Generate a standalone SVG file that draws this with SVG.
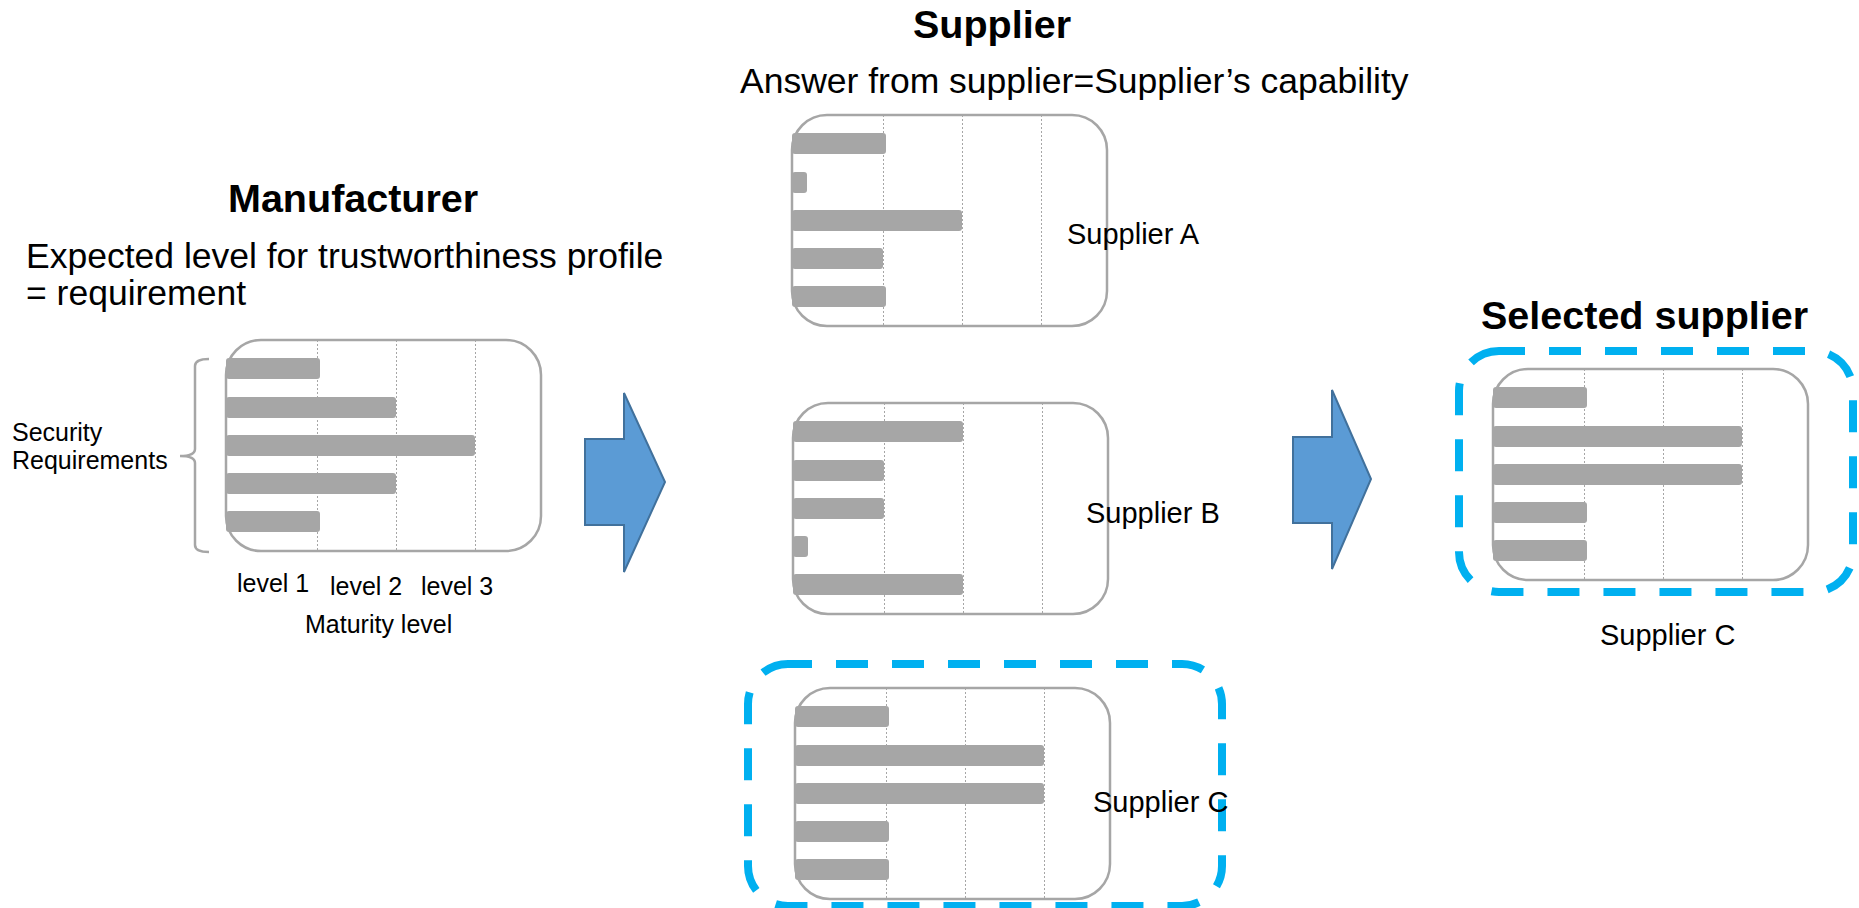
<svg xmlns="http://www.w3.org/2000/svg" width="1859" height="908" viewBox="0 0 1859 908">
  <style>
    text { font-family: "Liberation Sans", Arial, sans-serif; fill: #000; }
    .title { font-weight: bold; font-size: 39.5px; }
    .lead { font-size: 35.5px; }
    .name { font-size: 29px; }
    .axis { font-size: 25px; }
    .box { fill: #fff; stroke: #a6a6a6; stroke-width: 2.5; }
    .grid { stroke: #a6a6a6; stroke-width: 1; stroke-dasharray: 2 2; fill: none; }
    .bar { fill: #a6a6a6; }
    .pick { fill: none; stroke: #00b0f0; stroke-width: 8; stroke-dasharray: 32 24; }
    .arrow { fill: #5b9bd5; stroke: #41719c; stroke-width: 2; stroke-linejoin: miter; }
    .brace { fill: none; stroke: #a6a6a6; stroke-width: 2.5; }
  </style>

  <!-- headings -->
  <g id="headings">
    <text class="title" x="913" y="38">Supplier</text>
    <text class="lead" x="740" y="93">Answer from supplier=Supplier’s capability</text>
    <text class="title" x="228" y="212">Manufacturer</text>
    <text class="lead" x="26" y="268">Expected level for trustworthiness profile</text>
    <text class="lead" x="26" y="305">= requirement</text>
    <text class="title" x="1481" y="329">Selected supplier</text>
  </g>

  <!-- manufacturer requirement profile -->
  <g id="manufacturer">
    <rect class="box" x="226" y="340" width="315" height="211" rx="35"/>
    <path class="grid" d="M317.5 340V551M396.5 340V551M475.5 340V551"/>
    <rect class="bar" x="226" y="358" width="94" height="21" rx="3"/>
    <rect class="bar" x="226" y="397" width="170" height="21" rx="3"/>
    <rect class="bar" x="226" y="435" width="249" height="21" rx="3"/>
    <rect class="bar" x="226" y="473" width="170" height="21" rx="3"/>
    <rect class="bar" x="226" y="511" width="94" height="21" rx="3"/>
    <path class="brace" d="M209 359Q195 359 195 366L195 449Q195 456 180 456Q195 456 195 463L195 545Q195 552 209 552"/>
    <text class="axis" x="12" y="441">Security</text>
    <text class="axis" x="12" y="469">Requirements</text>
    <text class="axis" x="237" y="592">level 1</text>
    <text class="axis" x="330" y="595">level 2</text>
    <text class="axis" x="421" y="595">level 3</text>
    <text class="axis" x="305" y="633">Maturity level</text>
  </g>

  <!-- supplier A -->
  <g id="supplier-a">
    <rect class="box" x="792" y="115" width="315" height="211" rx="35"/>
    <path class="grid" d="M883.5 115V326M962.5 115V326M1041.5 115V326"/>
    <rect class="bar" x="792" y="133" width="94" height="21" rx="3"/>
    <rect class="bar" x="792" y="172" width="15" height="21" rx="3"/>
    <rect class="bar" x="792" y="210" width="170" height="21" rx="3"/>
    <rect class="bar" x="792" y="248" width="91" height="21" rx="3"/>
    <rect class="bar" x="792" y="286" width="94" height="21" rx="3"/>
    <text class="name" x="1067" y="244">Supplier A</text>
  </g>

  <!-- supplier B -->
  <g id="supplier-b">
    <rect class="box" x="793" y="403" width="315" height="211" rx="35"/>
    <path class="grid" d="M884.5 403V614M963.5 403V614M1042.5 403V614"/>
    <rect class="bar" x="793" y="421" width="170" height="21" rx="3"/>
    <rect class="bar" x="793" y="460" width="91" height="21" rx="3"/>
    <rect class="bar" x="793" y="498" width="91" height="21" rx="3"/>
    <rect class="bar" x="793" y="536" width="15" height="21" rx="3"/>
    <rect class="bar" x="793" y="574" width="170" height="21" rx="3"/>
    <text class="name" x="1086" y="523">Supplier B</text>
  </g>

  <!-- supplier C, highlighted -->
  <g id="supplier-c">
    <rect class="pick" x="748" y="664" width="474" height="242" rx="40" stroke-dashoffset="8"/>
    <rect class="box" x="795" y="688" width="315" height="211" rx="35"/>
    <path class="grid" d="M886.5 688V899M965.5 688V899M1044.5 688V899"/>
    <rect class="bar" x="795" y="706" width="94" height="21" rx="3"/>
    <rect class="bar" x="795" y="745" width="249" height="21" rx="3"/>
    <rect class="bar" x="795" y="783" width="249" height="21" rx="3"/>
    <rect class="bar" x="795" y="821" width="94" height="21" rx="3"/>
    <rect class="bar" x="795" y="859" width="94" height="21" rx="3"/>
    <text class="name" x="1093" y="812">Supplier C</text>
  </g>

  <!-- selected supplier -->
  <g id="selected">
    <rect class="pick" x="1459" y="351" width="394" height="241" rx="40" stroke-dashoffset="6"/>
    <rect class="box" x="1493" y="369" width="315" height="211" rx="35"/>
    <path class="grid" d="M1584.5 369V580M1663.5 369V580M1742.5 369V580"/>
    <rect class="bar" x="1493" y="387" width="94" height="21" rx="3"/>
    <rect class="bar" x="1493" y="426" width="249" height="21" rx="3"/>
    <rect class="bar" x="1493" y="464" width="249" height="21" rx="3"/>
    <rect class="bar" x="1493" y="502" width="94" height="21" rx="3"/>
    <rect class="bar" x="1493" y="540" width="94" height="21" rx="3"/>
    <text class="name" x="1600" y="645">Supplier C</text>
  </g>

  <!-- flow arrows -->
  <g id="connectors">
    <polygon class="arrow" points="585,439 624,439 624,393 665,482 624,572 624,525 585,525"/>
    <polygon class="arrow" points="1293,437 1332,437 1332,390 1371,479 1332,569 1332,523 1293,523"/>
  </g>
</svg>
